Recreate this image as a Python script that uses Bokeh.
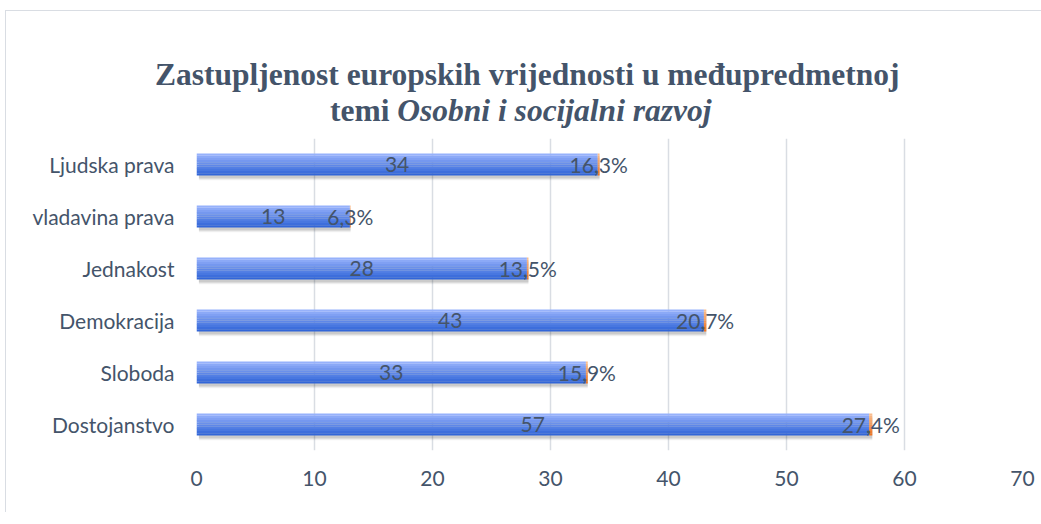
from bokeh.plotting import figure
from bokeh.layouts import column
from bokeh.models import ColumnDataSource, FactorRange, Range1d, FixedTicker, LabelSet, Div
from bokeh.transform import dodge
from bokeh.embed import file_html
from bokeh.resources import INLINE
from bokeh.core.properties import value

# ---- data ----
categories = ["Dostojanstvo", "Sloboda", "Demokracija", "Jednakost", "vladavina prava", "Ljudska prava"]
counts = [57, 33, 43, 28, 13, 34]
percents = [0.274, 0.159, 0.207, 0.135, 0.063, 0.163]
percent_labels = ["27,4%", "15,9%", "20,7%", "13,5%", "6,3%", "16,3%"]
count_labels = ["57", "33", "43", "28", "13", "34"]
x_ticks = [0, 10, 20, 30, 40, 50, 60, 70]
title_line1 = "Zastupljenost europskih vrijednosti u međupredmetnoj"
title_line2a = "temi"
title_line2b = "Osobni i socijalni razvoj"

TEXT = "#44546a"
FONT = "Lato"
BORDER = "1px solid #d9dde3"

# ---- title ----
common = ("font-family:'Liberation Serif'; font-weight:bold; font-size:31.5px; "
          "line-height:36px; color:%s; white-space:nowrap; text-align:left;" % TEXT)
title_html = (
    '<div style="padding-top:46px;">'
    '<div style="margin-left:149px; %s">%s</div>'
    '<div style="margin-left:324px; %s">%s <i>%s</i></div>'
    '</div>'
    % (common, title_line1, common, title_line2a, title_line2b)
)
t = Div(text=title_html, width=1036, height=118, margin=(10, 0, 0, 5),
        styles={"border-left": BORDER, "border-top": BORDER, "background": "white"})

# ---- main chart ----
src = ColumnDataSource(dict(
    cat=categories,
    count=counts,
    pct=percents,
    end=[c + q for c, q in zip(counts, percents)],
    mid=[c / 2 for c in counts],
    pmid=[c + q / 2 for c, q in zip(counts, percents)],
    clab=count_labels,
    plab=percent_labels,
))

p = figure(y_range=FactorRange(*categories), x_range=Range1d(0, 70),
           frame_width=825, frame_height=312,
           min_border_left=190, min_border_right=14, min_border_top=10, min_border_bottom=62,
           margin=(0, 0, 0, 5),
           output_backend="svg", toolbar_location=None)
p.outline_line_color = None
p.border_fill_color = "white"
p.styles = {"border-left": BORDER}

p.xaxis.ticker = FixedTicker(ticks=x_ticks)
p.xaxis.axis_line_color = None
p.xaxis.major_tick_line_color = None
p.xaxis.minor_tick_line_color = None
p.xaxis.major_label_text_font = FONT
p.xaxis.major_label_text_font_size = "21px"
p.xaxis.major_label_text_color = TEXT
p.xaxis.major_label_standoff = 14

p.yaxis.axis_line_color = None
p.yaxis.major_tick_line_color = None
p.yaxis.minor_tick_line_color = None
p.yaxis.major_label_text_font = FONT
p.yaxis.major_label_text_font_size = "21px"
p.yaxis.major_label_text_color = TEXT
p.yaxis.major_label_standoff = 16

p.ygrid.grid_line_color = None
p.xgrid.grid_line_color = "#d9dde3"
p.xgrid.grid_line_width = 1.5


def interp(c1, c2, f):
    a = [int(c1[i:i + 2], 16) for i in (1, 3, 5)]
    b = [int(c2[i:i + 2], 16) for i in (1, 3, 5)]
    return "#%02x%02x%02x" % tuple(round(a[k] + (b[k] - a[k]) * f) for k in range(3))


BAR_H = 0.42
N = 10
strip = BAR_H / N

# soft shadow
for off, alpha in [(-0.095, 0.05), (-0.075, 0.07), (-0.055, 0.09)]:
    p.hbar(y=dodge("cat", off, range=p.y_range), left=0.2, right="end", height=BAR_H,
           source=src, fill_color="#000000", fill_alpha=alpha, line_color=None)

# gradient bars
for i in range(N):
    off = BAR_H / 2 - (i + 0.5) * strip
    f = i / (N - 1)
    p.hbar(y=dodge("cat", off, range=p.y_range), left=0, right="count", height=strip * 1.05,
           source=src, fill_color=interp("#96b1fb", "#3266d8", f), line_color=None)
    p.hbar(y=dodge("cat", off, range=p.y_range), left="count", right="end", height=strip * 1.05,
           source=src, fill_color=interp("#f9bd8e", "#ee7424", f), line_color=None)

p.add_layout(LabelSet(x="mid", y="cat", text="clab", source=src, text_align="center",
                      text_baseline="middle", text_font=value(FONT), text_font_size="21px",
                      text_color=TEXT))
p.add_layout(LabelSet(x="pmid", y="cat", text="plab", source=src, text_align="center",
                      text_baseline="middle", text_font=value(FONT), text_font_size="21px",
                      text_color=TEXT))

layout = column(t, p, spacing=0)
open("out.html", "w").write(file_html(layout, INLINE))
